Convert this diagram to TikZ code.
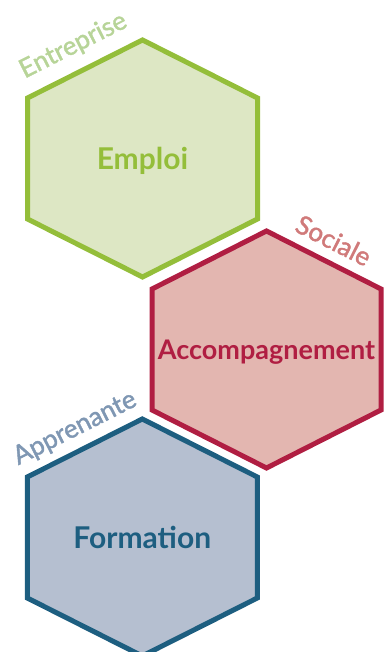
\documentclass[tikz,border=0pt]{standalone}
\usepackage{fontspec}
\setmainfont{Lato}
\newfontfamily\sidefont{Lato}[FakeBold=1.6]
\usepackage{tikz}
\usetikzlibrary{positioning, calc}
\definecolor{empgreen}{RGB}{148,190,58}
\definecolor{empfill}{RGB}{221,231,196}
\definecolor{empsoft}{RGB}{183,212,152}
\definecolor{accred}{RGB}{176,30,66}
\definecolor{accfill}{RGB}{227,182,176}
\definecolor{accsoft}{RGB}{208,122,122}
\definecolor{formblue}{RGB}{29,94,128}
\definecolor{formfill}{RGB}{181,191,208}
\definecolor{formsoft}{RGB}{127,151,179}
\tikzset{
  hexa/.style={line width=5pt, line join=miter},
  hextitle/.style 2 args={font=\fontsize{#1}{#1}\selectfont\bfseries, inner sep=0pt,
                   text height=#2, text depth=0pt},
  hexside/.style={font=\sidefont\fontsize{26}{26}\selectfont, sloped, inner sep=0pt,
                  text depth=0pt},
}

\begin{document}
\begin{tikzpicture}[x=1pt, y=1pt]
  \useasboundingbox (0,0) rectangle (383,652);
  \coordinate (c-emploi) at (142.5,493.5);
  \coordinate (c-accomp) at (266.5,302.5);
  \coordinate (c-form)   at (142.3,114.5);

  \draw[hexa, draw=empgreen, fill=empfill] ($(c-emploi)+(-115,-60.5)$)
    -- ++(0,121) -- node[hexside, text=empsoft, above=16pt] {Entreprise} ++(115,58)
    -- ++(115,-58) -- ++(0,-121) -- ++(-115,-58) -- cycle;
  \draw[hexa, draw=accred, fill=accfill] ($(c-accomp)+(-114.5,-60.5)$)
    -- ++(0,121) -- ++(114.5,58) -- node[hexside, text=accsoft, above=10pt] {Sociale} ++(114.5,-58)
    -- ++(0,-121) -- ++(-114.5,-58) -- cycle;
  \draw[hexa, draw=formblue, fill=formfill] ($(c-form)+(-115,-60.5)$)
    -- ++(0,121) -- node[hexside, text=formsoft, above=12pt] {Apprenante} ++(115,58)
    -- ++(115,-58) -- ++(0,-121) -- ++(-115,-58) -- cycle;

  \node[hextitle={30}{21.5pt}, text=empgreen] (emploi) at (c-emploi) {Emploi};
  \node[hextitle={27}{19.3pt}, text=accred]   (accomp) at (c-accomp) {Accompagnement};
  \node[hextitle={30}{21.5pt}, text=formblue] (form)   at (c-form)   {Formation};
\end{tikzpicture}
\end{document}
